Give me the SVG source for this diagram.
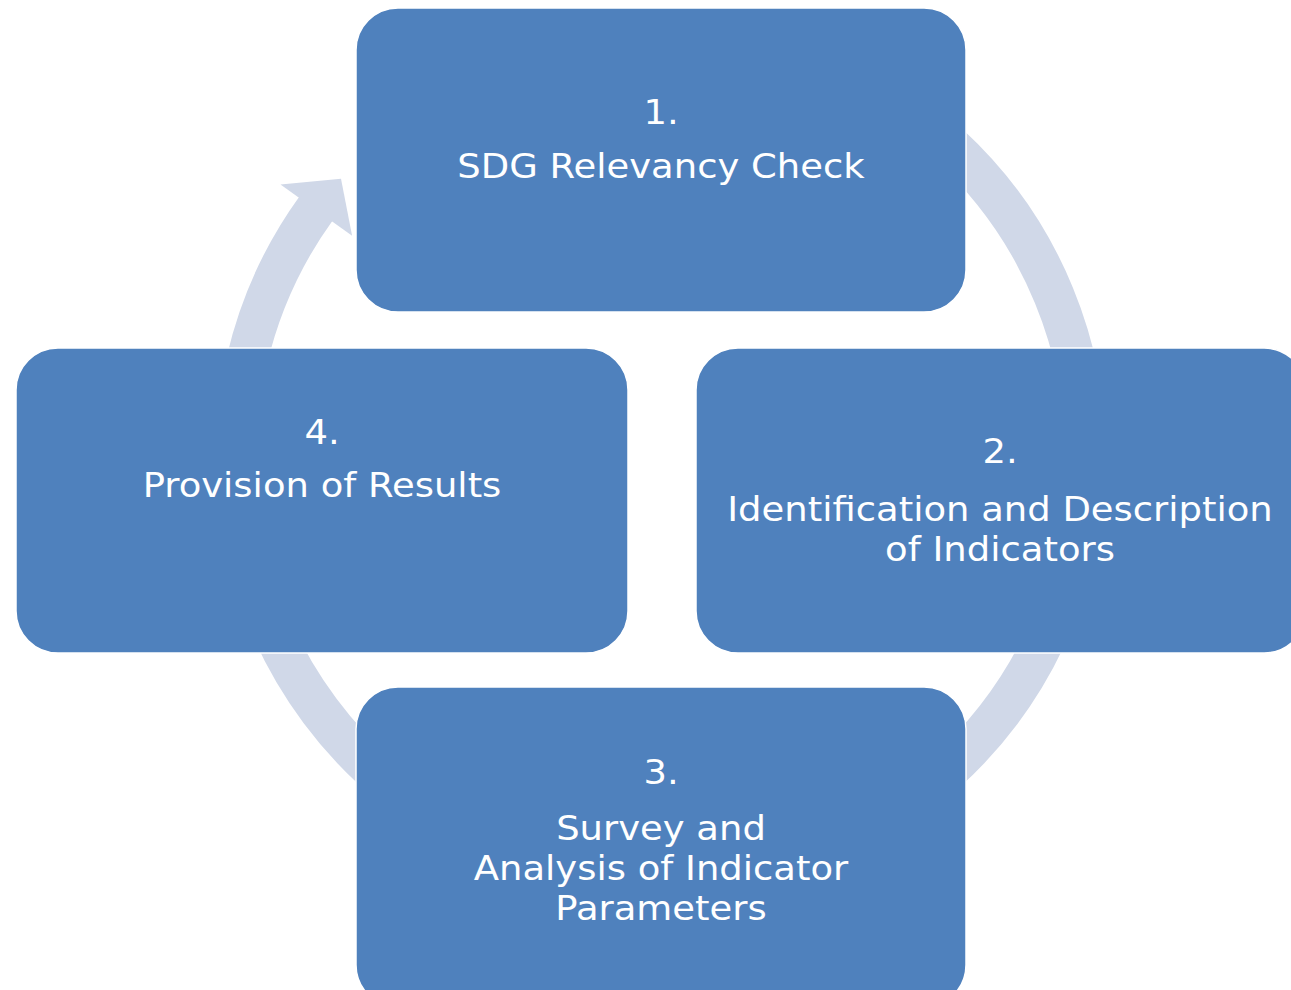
<svg xmlns="http://www.w3.org/2000/svg" width="1291" height="990" viewBox="0 0 1291 990">
<style>
.box{fill:#4f81bd;stroke:#ffffff;stroke-width:1.5}
.t{font-family:"DejaVu Sans",Verdana,sans-serif;font-size:33px;fill:#ffffff;text-anchor:middle}
.ring{fill:none;stroke:#d0d8e8;stroke-width:41;stroke-linecap:butt}
</style>
<rect width="1291" height="990" fill="#ffffff"/>
<g id="connectors">
<path class="ring" d="M806.4,57.6 A425,425 0 1 1 316.4,207.9"/>
<polygon points="280.5,184.6 341,178.8 352.1,235.8" fill="#d0d8e8"/>
</g>
<g id="node1">
<rect class="box" x="356" y="8" width="610" height="304" rx="42" ry="42"/>
<g transform="translate(661 0) scale(1.12 1)">
<text class="t" x="0" y="124">1.</text>
<text class="t" x="0" y="178">SDG Relevancy Check</text>
</g>
</g>
<g id="node2">
<rect class="box" x="696" y="348" width="610" height="305" rx="42" ry="42"/>
<g transform="translate(1000 0) scale(1.12 1)">
<text class="t" x="0" y="463">2.</text>
<text class="t" x="0" y="521">Identification and Description</text>
<text class="t" x="0" y="561">of Indicators</text>
</g>
</g>
<g id="node3">
<rect class="box" x="356" y="687" width="610" height="320" rx="42" ry="42"/>
<g transform="translate(661 0) scale(1.12 1)">
<text class="t" x="0" y="784">3.</text>
<text class="t" x="0" y="840">Survey and</text>
<text class="t" x="0" y="880">Analysis of Indicator</text>
<text class="t" x="0" y="920">Parameters</text>
</g>
</g>
<g id="node4">
<rect class="box" x="16" y="348" width="612" height="305" rx="42" ry="42"/>
<g transform="translate(322 0) scale(1.12 1)">
<text class="t" x="0" y="444">4.</text>
<text class="t" x="0" y="497">Provision of Results</text>
</g>
</g>
</svg>
